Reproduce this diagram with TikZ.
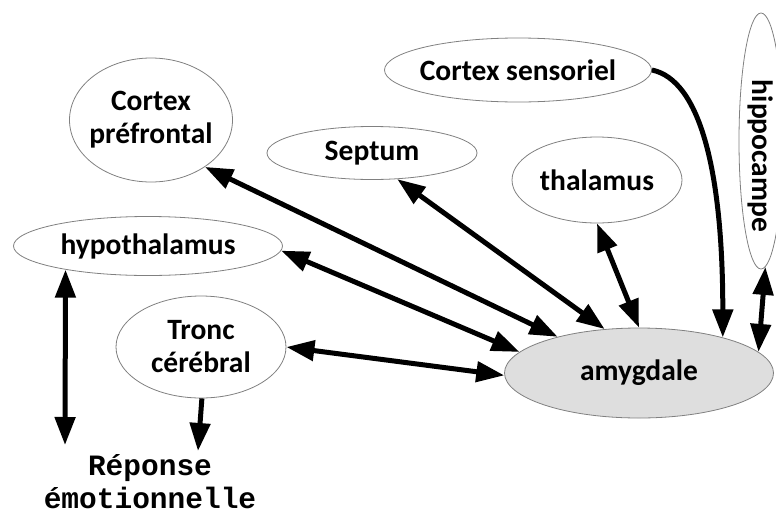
\documentclass[tikz,border=0pt]{standalone}
\usepackage{fontspec}
\setmainfont{Carlito}
\newfontfamily\replyfont{Liberation Mono}
\usetikzlibrary{shapes.geometric}
\usetikzlibrary{arrows.meta}

\begin{document}
\begin{tikzpicture}[x=1pt,y=-1pt]
\tikzset{
  organ/.style={ellipse,draw=gray,line width=0.8pt,inner sep=-120pt,align=center,font=\fontsize{29.5}{33}\selectfont\bfseries},
  core/.style={organ,fill=black!13},
  reply/.style={align=center,inner sep=0pt,font=\replyfont\fontsize{29.5}{33}\selectfont\bfseries},
  arrow/.style={-{Triangle[length=28pt,width=20pt]},line width=5pt},
  dblarrow/.style={{Triangle[length=28pt,width=20pt]}-{Triangle[length=28pt,width=20pt]},line width=5pt},
}
\useasboundingbox (0,0) rectangle (776,517);
\node[organ,minimum width=267pt,minimum height=64pt] (sens) at (518,70) {Cortex sensoriel};
\node[organ,minimum width=44pt,minimum height=256pt] (hippo) at (761,141) {\rotatebox{-90}{\hspace{30pt}hippocampe}};
\node[organ,minimum width=163pt,minimum height=124pt] (pref) at (151,120) {Cortex\\préfrontal};
\node[organ,minimum width=210pt,minimum height=53pt] (sept) at (372,153) {Septum};
\node[organ,minimum width=170pt,minimum height=86pt] (thal) at (597,180) {thalamus};
\node[organ,minimum width=269pt,minimum height=59pt] (hypo) at (148,246) {hypothalamus};
\node[organ,minimum width=170pt,minimum height=102pt] (tronc) at (201,347) {Tronc\\cérébral};
\node[core,minimum width=269pt,minimum height=90pt] (amyg) at (639,373) {amygdale};
\node[reply,anchor=north] (rep) at (150,454) {Réponse\\émotionnelle};
\coordinate (hypoend) at (65,445);
%
\draw[arrow] (sens.east) .. controls +(48,10) and +(0,-167) .. (amyg.23);
\draw[dblarrow] (hippo.-88) -- (amyg.10);
\draw[dblarrow] (thal.south) -- (amyg.90);
\draw[dblarrow] (sept.-46) -- (amyg.128);
\draw[dblarrow] (pref.-41) -- (amyg.156);
\draw[dblarrow] (hypo.-2) -- (amyg.170);
\draw[dblarrow] (tronc.east) -- (amyg.181);
\draw[dblarrow] (hypo.196) -- (hypoend);
\draw[arrow] (tronc.-89) -- ([shift={(48,-3)}]rep.north);
\end{tikzpicture}
\end{document}
